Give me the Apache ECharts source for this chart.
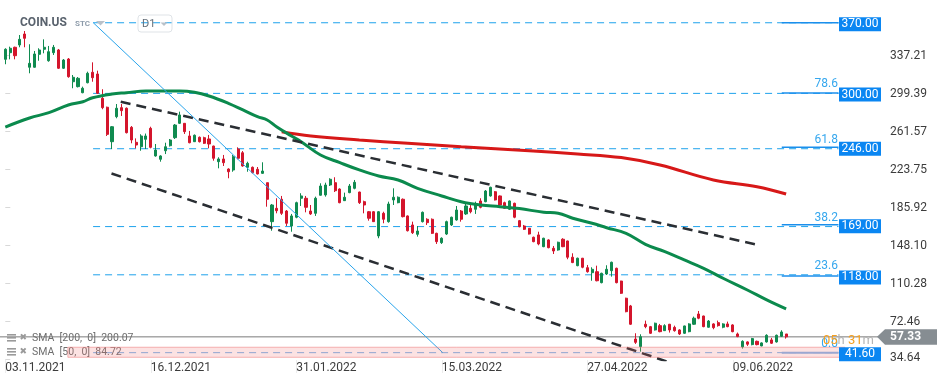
<!DOCTYPE html>
<html><head><meta charset="utf-8">
<script src="https://cdn.jsdelivr.net/npm/echarts@6/dist/echarts.min.js"></script>
<style>html,body{margin:0;padding:0;background:#fff}#c{width:949px;height:385px}</style>
</head><body><div id="c"></div>
<script>
// ---------- DATA ----------
const dateLabels = ['03.11.2021', '16.12.2021', '31.01.2022', '15.03.2022', '27.04.2022', '09.06.2022'];
const dateTicks = [0, 30, 60, 90, 120, 150];

const openP = [333.6,340.2,345.6,347.9,358.8,325.7,325.7,338.6,343.6,332.2,340.2,342.9,324.7,333.9,311.3,306.4,300.4,310.3,320.7,319.0,
294.8,285.9,251.6,276.5,285.5,284.9,265.9,251.0,246.6,254.0,264.9,237.4,234.1,242.6,247.6,255.6,269.9,269.9,257.3,251.6,
256.0,255.6,254.3,247.3,231.7,234.4,224.4,223.4,244.3,240.6,226.1,226.1,224.1,220.1,210.8,172.0,185.3,194.3,182.6,167.7,
176.4,195.3,195.3,182.6,180.3,198.3,198.6,208.5,210.8,204.5,192.9,200.9,205.2,201.5,191.9,181.9,181.9,157.8,180.3,172.0,
193.6,190.9,194.3,177.7,168.7,159.4,172.0,174.4,174.4,160.4,151.1,159.7,168.7,173.7,182.6,179.7,185.3,184.3,192.6,191.9,
197.6,201.8,197.6,190.9,184.3,190.3,173.0,167.7,165.4,156.5,158.8,147.1,153.8,145.5,143.8,154.5,152.8,136.6,128.2,135.6,
126.2,121.2,122.2,111.3,119.9,123.2,125.6,112.9,95.8,88.1,55.2,47.6,69.9,67.5,64.2,68.5,63.5,69.9,66.8,64.2,
60.9,62.5,69.9,80.1,78.1,66.9,70.2,71.5,66.9,70.2,69.2,60.2,47.3,52.3,49.6,52.9,48.3,52.3,54.3,52.3,
57.9,60.2];
const closeP = [343.6,344.6,337.2,353.5,354.5,329.6,338.9,342.9,345.6,341.2,345.6,324.7,332.9,316.3,315.7,314.7,304.8,319.7,315.3,299.8,
285.5,258.9,266.5,284.9,282.5,260.6,253.3,248.3,257.3,257.3,246.0,243.3,237.4,246.6,253.3,268.2,278.2,261.6,250.6,258.0,
251.6,250.0,249.3,235.1,234.4,230.7,221.7,236.7,235.1,227.4,230.1,220.8,219.5,222.4,194.3,188.6,182.9,180.3,170.4,177.7,
190.9,197.6,186.3,179.7,195.3,207.5,208.5,214.2,202.8,190.9,196.3,207.5,211.2,190.9,188.6,175.4,172.0,181.9,174.4,189.6,
196.3,196.3,177.0,163.0,161.0,162.7,181.3,171.0,160.4,152.1,155.5,172.0,176.4,183.6,174.4,187.6,181.9,189.6,186.3,202.5,
206.2,193.6,188.6,185.3,192.6,176.4,167.0,164.4,159.7,152.1,149.8,155.5,146.1,142.8,151.5,147.1,136.6,131.3,135.6,126.6,
122.2,124.6,113.2,120.6,124.6,131.6,111.3,100.7,82.4,69.9,51.9,57.5,67.5,60.9,70.9,62.5,68.5,64.2,63.5,60.2,
68.2,70.2,75.9,75.9,67.5,73.1,66.5,68.5,70.2,67.5,62.5,57.6,52.9,50.0,55.6,49.6,51.3,58.9,51.0,58.9,
62.2,57.33];
const lowP = [328.7,333.6,333.6,345.6,345.6,319.7,325.3,332.2,339.6,331.2,337.9,324.0,324.0,315.3,304.8,305.6,299.8,309.7,311.3,299.1,
283.9,257.3,244.3,274.9,277.2,259.8,250.0,245.0,242.6,244.3,245.0,236.7,231.7,239.3,246.8,254.3,269.2,259.3,250.0,251.3,
250.8,249.3,245.0,232.7,225.1,227.4,215.2,221.7,234.1,226.7,221.7,220.0,219.0,219.5,186.9,163.0,180.3,178.7,167.7,162.0,
175.4,187.6,181.3,178.7,177.7,197.9,196.9,207.5,201.5,190.3,192.6,200.3,204.2,189.6,180.3,173.0,171.7,155.5,170.4,171.0,
188.6,190.3,176.2,162.2,159.7,157.1,171.2,168.7,159.7,149.8,149.8,158.7,167.7,173.0,172.0,178.7,180.3,179.7,185.3,191.3,
196.9,193.1,188.1,184.6,183.6,175.4,166.4,163.7,159.2,151.5,148.5,146.6,145.5,139.8,143.1,146.6,134.6,130.7,127.6,125.6,
121.2,113.2,112.6,110.6,118.9,117.3,110.6,100.0,81.8,69.2,50.3,42.6,65.9,60.2,63.6,61.9,63.2,61.6,62.5,59.2,
60.2,61.9,69.2,74.9,66.9,66.5,64.9,67.5,65.9,66.9,61.9,57.0,45.7,48.3,48.9,48.9,47.9,51.6,50.3,51.6,
57.3,55.6];
const highP = [344.6,346.2,346.2,357.8,361.8,348.6,341.9,344.6,353.5,346.9,347.9,343.9,333.9,334.9,318.0,316.0,306.4,321.3,330.6,322.3,
303.8,286.5,267.2,289.1,289.1,285.7,267.2,254.9,259.0,259.7,266.5,249.3,238.1,250.6,254.3,269.2,281.5,269.9,262.3,258.8,
256.8,256.6,258.3,247.6,236.1,238.4,225.1,238.4,246.0,242.3,231.7,226.9,226.4,231.1,210.8,189.6,195.3,197.6,183.6,179.7,
191.9,200.3,197.6,188.6,196.9,210.2,210.8,215.2,216.2,205.2,200.9,209.5,213.5,201.8,192.9,182.6,182.6,182.6,181.9,191.9,
205.2,197.1,195.1,178.2,172.0,167.7,182.1,175.4,175.2,161.0,156.4,173.0,177.0,187.6,183.6,189.6,188.6,191.9,195.3,203.5,
206.8,202.5,198.1,191.9,193.1,190.9,173.7,168.7,165.7,157.1,162.0,156.0,154.5,147.8,152.1,155.5,153.1,140.5,136.2,135.9,
128.9,126.6,128.2,121.2,128.6,132.2,126.2,113.2,96.3,89.1,60.9,59.9,73.5,68.2,71.5,70.2,69.9,70.2,68.5,64.9,
68.5,70.9,77.5,83.1,78.4,74.1,70.9,73.5,70.9,72.5,69.9,61.6,53.9,52.9,56.3,53.6,51.9,59.9,56.3,59.6,
63.9,60.2];

const sma50Points = [[0,266.2],[5,275.2],[9,280.5],[13,288.1],[16,291.4],[18,295.4],[22,299.1],[25,300.4],[29,302.1],[33,302.1],
[36,302.1],[39,300.8],[42,297.1],[46,289.8],[49,283.2],[52,276.5],[54,273.2],[56,266.2],[59,257.3],[61,251.6],[65,238.4],
[69,230.7],[73,223.5],[77,217.5],[81,213.5],[85,205.2],[90,197.6],[94,191.9],[98,188.6],[102,186.9],[106,185.0],[111,181.4],
[114,180.4],[117,175.4],[121,170.4],[124,166.0],[128,160.4],[132,149.5],[136,142.1],[140,133.9],[144,125.6],[148,115.7],
[153,104.0],[157,94.1],[161,85.1]];
const sma200Points = [[57,261.6],[63,257.3],[73,253.3],[83,250.0],[94,246.6],[108,242.7],[118,239.4],[127,235.8],[135,228.4],
[146,213.5],[155,206.8],[161,199.5]];

const yTickValues = [34.64, 72.46, 110.28, 148.10, 185.92, 223.75, 261.57, 299.39, 337.21];
const levelValues = [370, 300, 246, 169, 118, 41.6];
const fibRatios = ['100.0', '78.6', '61.8', '38.2', '23.6', '0.0'];
const fibValues = [370, 299.7, 244.6, 167.1, 119.1, 41.6];
const lastPrice = 57.33;
const smaLegend = [['SMA  [200,  0]  200.07'], ['SMA  [50,  0]  84.72']];
const countdown = ['05', '31'];
const channelUpper = [[23.8, 291.4], [154.6, 149.5]];
const channelLower = [[21.9, 220.0], [137, 31.8]];
const stcLine = [[18.15, 370], [90.2, 41.6]];
const bandRange = [[12.9, 47.0], [173.1, 37.0]];

// ---------- LAYOUT ----------
const X_MIN = -1.093, X_MAX = 180.77;
const FIB_START = 18.1, FIB_END = 171.8, SOLID_START = 160.1;

const chart = echarts.init(document.getElementById('c'), null, {renderer: 'canvas', width: 949, height: 385});

function seg(data, color, width, type, z) {
  return {type: 'line', data: data, symbol: 'none', silent: true, z: z,
    lineStyle: {color: color, width: width, type: type}, clip: true};
}

const series = [];
fibValues.forEach((v, i) => {
  series.push(seg([[FIB_START, v], [FIB_END, v]], i === 5 ? '#78b4ea' : '#1ea2ec', 1, [7, 5], 1));
});
levelValues.forEach((v, i) => {
  series.push(seg([[SOLID_START, v], [FIB_END, v]], i === 5 ? '#86b6ea' : '#1b8fec', i === 5 ? 2 : 1.5, 'solid', 1));
});
series.push(seg([[X_MIN, lastPrice], [X_MAX, lastPrice]], '#7b7b7b', 1, 'solid', 2));
series.push({
  type: 'candlestick', z: 3, silent: true, barWidth: 2.6,
  data: openP.map((o, i) => [i, o, closeP[i], lowP[i], highP[i]]),
  encode: {x: 0, y: [1, 2, 3, 4]},
  itemStyle: {color: '#108b50', color0: '#d4152c', borderColor: '#108b50', borderColor0: '#d4152c', borderWidth: 1}
});
series.push({type: 'line', data: sma200Points, smooth: 0.4, symbol: 'none', silent: true, z: 4,
  lineStyle: {color: '#d71818', width: 3}});
series.push({type: 'line', data: sma50Points, smooth: 0.4, symbol: 'none', silent: true, z: 4,
  lineStyle: {color: '#0b8a4d', width: 3}});
series.push(seg(channelUpper, '#2a2e33', 2.5, [10, 6], 5));
series.push(seg(channelLower, '#2a2e33', 2.5, [10, 6], 5));
series.push(seg(stcLine, '#2aa5ec', 1, 'solid', 5));

chart.setOption({
  animation: false,
  backgroundColor: '#ffffff',
  textStyle: {fontFamily: 'Roboto'},
  grid: {left: 0, right: 67, top: 0, bottom: 25, containLabel: false},
  xAxis: {
    type: 'value', min: X_MIN, max: X_MAX,
    splitLine: {show: false}, axisLine: {show: false},
    axisTick: {show: true, customValues: dateTicks, length: 13, lineStyle: {color: '#ececec'}},
    axisLabel: {customValues: dateTicks, align: 'left', margin: 2, fontSize: 12, color: '#3c3c3c',
      formatter: v => dateLabels[dateTicks.indexOf(Math.round(v))] || ''}
  },
  yAxis: {
    type: 'value', position: 'right', min: 34.3, max: 392.65, scale: true,
    splitLine: {show: false}, axisLine: {show: false},
    axisTick: {show: true, customValues: yTickValues, length: 5, lineStyle: {color: '#d8d8d8'}},
    axisLabel: {customValues: yTickValues, margin: 8, fontSize: 12, color: '#3c3c3c',
      formatter: v => (Math.abs(v - yTickValues[0]) < 0.01 ? '{m|' + v.toFixed(2) + '}' : v.toFixed(2)),
      rich: {m: {fontSize: 12, color: '#3c3c3c', padding: [0, 0, 4, 0]}}}
  },
  series: series
});

const toPx = p => chart.convertToPixel({xAxisIndex: 0, yAxisIndex: 0}, p);
const g = [];
// pink band (drawn over, translucent)
const b1 = toPx(bandRange[0]), b2 = toPx(bandRange[1]);
g.push({type: 'rect', z: 10, silent: true, shape: {x: b1[0], y: b1[1], width: b2[0] - b1[0], height: b2[1] - b1[1]},
  style: {fill: 'rgba(240,110,110,0.2)', stroke: 'rgba(236,120,120,0.55)', lineWidth: 1}});
// fib ratio labels
fibValues.forEach((v, i) => {
  if (i === 0) return;
  const py = toPx([0, v])[1];
  g.push({type: 'text', z: 12, silent: true, style: {x: 838, y: py - 9, text: fibRatios[i], fill: '#35a7ee',
    font: '12px Roboto', align: 'right', verticalAlign: 'middle'}});
});
// countdown + last price tag
{
  const py = toPx([0, lastPrice])[1];
  g.push({type: 'text', z: 13, silent: true, style: {x: 823, y: py + 3.5, text: '{o|' + countdown[0] + '}{g|h }{o|' + countdown[1] + '}{g|m}',
    verticalAlign: 'middle', rich: {o: {fill: '#f5a020', font: '13px Roboto'}, g: {fill: '#b5b5b5', font: '13px Roboto'}}}});
  g.push({type: 'polygon', z: 14, silent: true, shape: {points: [[877, py], [885, py - 7.5], [937, py - 7.5], [937, py + 8], [885, py + 8]]},
    style: {fill: '#868d92'}});
  g.push({type: 'text', z: 15, silent: true, style: {x: 890, y: py + 0.5, text: lastPrice.toFixed(2), fill: '#ffffff',
    font: 'bold 12px Roboto', verticalAlign: 'middle'}});
}
// level boxes
levelValues.forEach(v => {
  const py = toPx([0, v])[1];
  g.push({type: 'rect', z: 16, silent: true, shape: {x: 839, y: py - 5.5, width: 42, height: 14}, style: {fill: '#0a86f2'}});
  g.push({type: 'text', z: 17, silent: true, style: {x: 860, y: py + 1.5, text: v.toFixed(2), fill: '#ffffff',
    font: '12px Roboto', align: 'center', verticalAlign: 'middle'}});
});
// header
g.push({type: 'text', z: 20, silent: true, style: {x: 20, y: 23, text: 'COIN.US', fill: '#59626d', font: 'bold 12px Roboto', verticalAlign: 'middle'}});
g.push({type: 'text', z: 20, silent: true, style: {x: 75, y: 24, text: 'STC', fill: '#8e9cab', font: 'bold 8px Roboto', verticalAlign: 'middle'}});
g.push({type: 'polygon', z: 20, silent: true, shape: {points: [[96, 21], [105, 21], [100.5, 25.5]]}, style: {fill: '#b9c1c9'}});
g.push({type: 'rect', z: 20, silent: true, shape: {x: 138, y: 15, width: 34, height: 17, r: 3}, style: {fill: 'none', stroke: '#dfe3e7', lineWidth: 1}});
g.push({type: 'text', z: 20, silent: true, style: {x: 142, y: 24, text: 'D1', fill: '#66707a', font: '11px Roboto', verticalAlign: 'middle'}});
g.push({type: 'polygon', z: 20, silent: true, shape: {points: [[160.5, 22.5], [167.5, 22.5], [164, 26]]}, style: {fill: '#b9c1c9'}});
// SMA legend
[338, 352].forEach((yy, i) => {
  g.push({type: 'rect', z: 20, silent: true, shape: {x: 7, y: yy - 4, width: 9, height: 1.6}, style: {fill: '#9a9a9a'}});
  g.push({type: 'rect', z: 20, silent: true, shape: {x: 7, y: yy - 1, width: 9, height: 1.6}, style: {fill: '#9a9a9a'}});
  g.push({type: 'rect', z: 20, silent: true, shape: {x: 7, y: yy + 2, width: 9, height: 1.6}, style: {fill: '#9a9a9a'}});
  g.push({type: 'text', z: 20, silent: true, style: {x: 19.5, y: yy - 0.5, text: '\u2716', fill: '#9a9a9a', font: '9px DejaVu Sans', verticalAlign: 'middle'}});
  g.push({type: 'text', z: 9, silent: true, style: {x: 32, y: yy + 0.5, text: smaLegend[i][0], fill: '#6e6e6e', font: '10.5px Roboto', verticalAlign: 'middle'}});
});
chart.setOption({graphic: g});
</script>
</body></html>
